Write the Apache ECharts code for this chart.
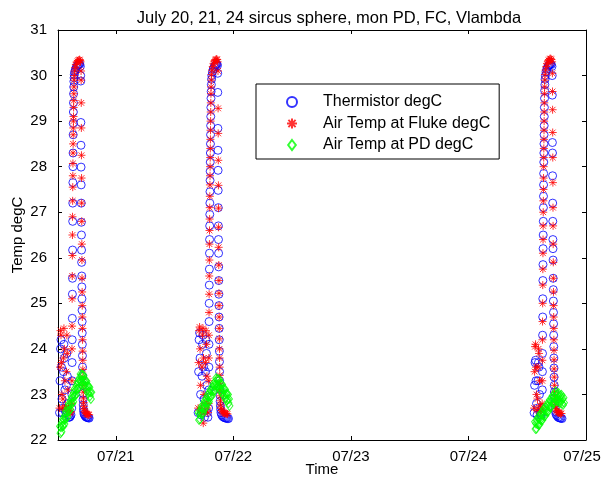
<!DOCTYPE html>
<html>
<head>
<meta charset="utf-8">
<script src="https://cdn.jsdelivr.net/npm/echarts@6/dist/echarts.min.js"></script>
<style>
html,body{margin:0;padding:0;background:#fff;}
#chart{width:602px;height:482px;}
</style>
</head>
<body>
<div id="chart"></div>
<script>
// Time in hours since 07/20 00:00, temperature in degC
const xTickHours = [24, 48, 72, 96, 120];
const xTickLabels = ['07/21', '07/22', '07/23', '07/24', '07/25'];
const seriesNames = ['Thermistor degC', 'Air Temp at Fluke degC', 'Air Temp at PD degC'];

const thermistorEp1 = [[12.5,22.6],[12.6,23.3],[12.7,24.0],[12.8,24.2],[12.9,23.6],[13.0,22.9],[13.1,22.6],[13.2,22.7],[13.3,23.5],[13.4,24.1],[13.5,23.8],[13.6,23.1],[13.7,22.65],[13.8,22.6],[13.9,23.2],[14.0,23.9],[14.1,23.4],[14.2,22.8],[14.3,22.55],[14.4,22.5],[14.55,22.5],[14.7,22.52],[14.85,22.55],
[15.0,22.7],[15.03,23.0],[15.05,23.3],[15.07,23.7],[15.09,24.2],[15.11,24.67],[15.13,25.2],[15.15,25.55],[15.17,26.17],[15.19,26.8],[15.21,27.2],[15.23,27.65],[15.25,28.0],[15.27,28.3],[15.29,28.7],[15.31,28.95],[15.33,29.2],[15.35,29.4],[15.37,29.6],[15.4,29.75],[15.43,29.87],[15.47,29.95],[15.52,30.02],
[15.6,30.08],[15.75,30.13],[15.9,30.17],[16.05,30.2],[16.2,30.22],[16.35,30.24],[16.5,30.25],[16.65,30.25],[16.75,30.2],
[16.82,30.0],[16.84,29.88],[16.86,28.97],[16.88,28.47],[16.9,27.99],[16.92,27.6],[16.94,27.2],[16.96,26.78],[16.98,26.5],[17.0,26.17],[17.02,25.9],[17.04,25.6],[17.06,25.36],[17.08,25.1],[17.1,24.85],[17.12,24.6],[17.14,24.35],[17.16,24.1],[17.18,23.85],[17.2,23.6],[17.22,23.4],[17.24,23.2],[17.27,23.02],[17.3,22.88],[17.34,22.77],[17.38,22.68],[17.43,22.62],[17.5,22.57],
[17.65,22.54],[17.8,22.52],[17.95,22.5],[18.1,22.5],[18.25,22.49],[18.4,22.49],[18.55,22.48]];

const thermistorEp2 = [[40.8,22.6],[40.9,23.5],[41.0,24.2],[41.1,24.35],[41.2,23.8],[41.3,23.0],[41.4,22.55],[41.5,22.6],[41.6,23.4],[41.7,24.1],[41.8,24.3],[41.9,23.6],[42.0,22.9],[42.1,22.5],[42.2,22.7],[42.3,23.5],[42.4,24.2],[42.5,23.9],[42.6,23.2],[42.7,22.6],[42.8,22.5],
[42.95,22.7],[42.98,23.1],[43.0,23.6],[43.02,24.1],[43.04,24.6],[43.06,25.0],[43.08,25.4],[43.1,25.75],[43.12,26.1],[43.14,26.4],[43.16,26.7],[43.18,26.95],[43.2,27.2],[43.22,27.45],[43.24,27.7],[43.26,27.9],[43.28,28.1],[43.3,28.3],[43.32,28.5],[43.34,28.7],[43.36,28.9],[43.38,29.1],[43.4,29.3],[43.43,29.5],[43.46,29.65],[43.5,29.8],[43.55,29.92],[43.6,30.0],
[43.75,30.08],[43.9,30.14],[44.05,30.18],[44.2,30.21],[44.35,30.23],[44.5,30.25],[44.65,30.25],[44.75,30.22],
[44.8,30.05],[44.82,29.63],[44.84,28.84],[44.86,28.36],[44.88,27.92],[44.9,27.48],[44.92,27.1],[44.94,26.7],[44.96,26.4],[44.98,26.1],[45.0,25.8],[45.02,25.5],[45.04,25.2],[45.06,24.95],[45.08,24.7],[45.1,24.45],[45.12,24.2],[45.14,23.95],[45.16,23.72],[45.18,23.5],[45.2,23.3],[45.23,23.12],[45.26,22.98],[45.3,22.85],[45.35,22.75],[45.4,22.67],[45.46,22.6],
[45.6,22.55],[45.8,22.52],[46.0,22.5],[46.2,22.49],[46.4,22.48],[46.6,22.48],[46.8,22.47],[47.0,22.47]];

const thermistorEp3 = [[109.4,22.6],[109.5,23.2],[109.6,23.7],[109.7,23.75],[109.8,23.3],[109.9,22.8],[110.0,22.55],[110.1,22.7],[110.2,23.3],[110.3,23.7],[110.4,23.6],[110.5,23.0],[110.6,22.6],[110.7,22.55],[110.8,22.6],[110.9,22.55],
[111.05,22.7],[111.08,23.1],[111.1,23.5],[111.12,23.9],[111.14,24.3],[111.16,24.7],[111.18,25.1],[111.2,25.5],[111.22,25.85],[111.24,26.2],[111.26,26.5],[111.28,26.8],[111.3,27.1],[111.32,27.35],[111.34,27.6],[111.36,27.85],[111.38,28.1],[111.4,28.3],[111.42,28.5],[111.44,28.7],[111.46,28.9],[111.48,29.1],[111.5,29.3],[111.53,29.5],[111.56,29.67],[111.6,29.8],[111.65,29.92],[111.7,30.0],
[111.85,30.08],[112.0,30.14],[112.15,30.18],[112.3,30.21],[112.45,30.23],[112.6,30.24],[112.75,30.25],[112.9,30.24],[113.05,30.2],
[113.1,30.0],[113.12,29.57],[113.14,28.53],[113.16,28.3],[113.18,27.8],[113.2,27.2],[113.22,26.8],[113.24,26.4],[113.26,26.2],[113.28,25.95],[113.3,25.55],[113.32,25.3],[113.34,25.05],[113.36,24.8],[113.38,24.55],[113.4,24.3],[113.42,24.05],[113.44,23.8],[113.46,23.58],[113.48,23.38],[113.51,23.2],[113.54,23.05],[113.58,22.92],[113.63,22.8],[113.69,22.7],[113.76,22.62],
[113.9,22.56],[114.1,22.53],[114.3,22.5],[114.5,22.49],[114.7,22.48],[114.9,22.48],[115.1,22.47]];

const flukeEp1 = [[12.5,22.7],[12.6,23.6],[12.7,24.4],[12.8,24.3],[12.9,23.7],[13.0,23.0],[13.1,22.7],[13.2,22.9],[13.3,23.8],[13.4,24.45],[13.5,24.0],[13.6,23.3],[13.7,22.75],[13.8,22.7],[13.9,23.5],[14.0,24.3],[14.1,23.9],[14.2,23.1],[14.3,22.7],[14.4,22.62],[14.55,22.6],[14.7,22.6],[14.85,22.62],
[15.0,22.8],[15.02,23.3],[15.04,24.0],[15.06,24.5],[15.08,25.1],[15.1,25.6],[15.12,26.05],[15.14,26.5],[15.16,26.9],[15.18,27.25],[15.2,27.55],[15.22,27.8],[15.24,28.07],[15.26,28.3],[15.28,28.5],[15.3,28.7],[15.32,28.85],[15.34,29.0],[15.36,29.1],[15.38,29.3],[15.4,29.45],[15.42,29.6],[15.45,29.75],[15.48,29.9],[15.52,30.0],
[15.6,30.1],[15.72,30.18],[15.85,30.24],[16.0,30.28],[16.15,30.31],[16.3,30.33],[16.45,30.34],[16.6,30.35],[16.72,30.33],[16.8,30.3],
[16.9,30.1],[16.92,29.9],[16.94,29.4],[16.96,28.85],[16.98,28.25],[17.0,27.75],[17.02,27.2],[17.04,26.8],[17.06,26.3],[17.08,25.95],[17.1,25.55],[17.12,25.25],[17.14,24.95],[17.16,24.7],[17.18,24.45],[17.2,24.2],[17.22,23.95],[17.24,23.75],[17.26,23.55],[17.28,23.38],[17.31,23.2],[17.34,23.05],[17.38,22.92],[17.42,22.82],[17.47,22.74],[17.53,22.68],
[17.65,22.63],[17.8,22.6],[17.95,22.58],[18.1,22.57],[18.25,22.56],[18.4,22.56],[18.55,22.55]];

const flukeEp2 = [[40.8,22.7],[40.9,23.7],[41.0,24.4],[41.1,24.48],[41.2,24.0],[41.3,23.2],[41.4,22.6],[41.5,22.7],[41.6,23.6],[41.7,24.3],[41.8,24.45],[41.85,22.37],[41.9,23.8],[42.0,23.0],[42.1,22.6],[42.2,22.8],[42.3,23.7],[42.4,24.4],[42.5,24.1],[42.6,23.4],[42.7,22.7],[42.8,22.6],
[42.95,22.8],[42.97,23.3],[42.99,23.8],[43.01,24.3],[43.03,24.8],[43.05,25.2],[43.07,25.6],[43.09,25.95],[43.11,26.3],[43.13,26.6],[43.15,26.85],[43.17,27.1],[43.19,27.35],[43.21,27.6],[43.23,27.8],[43.25,28.0],[43.27,28.2],[43.29,28.4],[43.31,28.6],[43.33,28.8],[43.35,29.0],[43.37,29.2],[43.39,29.4],[43.42,29.6],[43.45,29.75],[43.49,29.9],[43.54,30.02],
[43.65,30.12],[43.8,30.2],[43.95,30.26],[44.1,30.3],[44.25,30.33],[44.4,30.35],[44.55,30.36],[44.7,30.35],[44.8,30.3],
[44.86,30.1],[44.88,29.28],[44.9,28.73],[44.92,28.14],[44.94,27.59],[44.96,27.09],[44.98,26.67],[45.0,26.23],[45.02,25.84],[45.04,25.5],[45.06,25.22],[45.08,24.95],[45.1,24.7],[45.12,24.45],[45.14,24.22],[45.16,24.0],[45.18,23.8],[45.2,23.6],[45.22,23.42],[45.25,23.25],[45.28,23.1],[45.32,22.97],[45.36,22.86],[45.41,22.77],[45.47,22.7],
[45.6,22.65],[45.8,22.62],[46.0,22.6],[46.2,22.59],[46.4,22.58],[46.6,22.58],[46.8,22.57]];

const flukeEp3 = [[109.4,22.7],[109.5,23.5],[109.6,24.05],[109.7,24.1],[109.8,23.6],[109.9,23.0],[110.0,22.65],[110.1,22.9],[110.2,23.6],[110.3,24.0],[110.4,23.9],[110.5,23.3],[110.6,22.75],[110.7,22.65],[110.8,22.7],[110.9,22.65],
[111.05,22.8],[111.07,23.3],[111.09,23.75],[111.11,24.2],[111.13,24.6],[111.15,25.0],[111.17,25.4],[111.19,25.75],[111.21,26.1],[111.23,26.4],[111.25,26.7],[111.27,27.0],[111.29,27.25],[111.31,27.5],[111.33,27.75],[111.35,28.0],[111.37,28.2],[111.39,28.4],[111.41,28.6],[111.43,28.8],[111.45,29.0],[111.47,29.2],[111.49,29.4],[111.52,29.6],[111.55,29.75],[111.59,29.9],[111.64,30.02],
[111.75,30.12],[111.9,30.2],[112.05,30.26],[112.2,30.3],[112.35,30.33],[112.5,30.35],[112.65,30.37],[112.8,30.37],[112.95,30.35],[113.08,30.3],
[113.14,30.05],[113.16,29.65],[113.18,29.25],[113.2,28.75],[113.22,28.2],[113.24,27.65],[113.26,27.1],[113.28,26.7],[113.3,26.3],[113.32,25.9],[113.34,25.55],[113.36,25.25],[113.38,24.95],[113.4,24.7],[113.42,24.45],[113.44,24.2],[113.46,23.97],[113.48,23.76],[113.5,23.56],[113.53,23.38],[113.56,23.2],[113.6,23.05],[113.65,22.92],[113.7,22.82],[113.76,22.74],[113.83,22.68],
[114.0,22.64],[114.2,22.61],[114.4,22.6],[114.6,22.59],[114.8,22.58],[115.0,22.58]];

const pdEp1 = [[12.6,22.30],[12.7,22.15],[12.8,22.28],[12.9,22.18],[13.0,22.38],[13.1,22.31],[13.2,22.46],[13.3,22.31],[13.4,22.45],[13.5,22.35],[13.6,22.54],[13.7,22.47],[13.8,22.63],[13.9,22.47],[14.0,22.61],[14.1,22.51],[14.2,22.71],[14.3,22.63],[14.4,22.79],[14.5,22.64],[14.6,22.78],[14.7,22.67],[14.8,22.87],[14.9,22.80],[15.0,22.95],[15.1,22.80],[15.2,22.94],[15.3,22.84],[15.4,23.03],[15.5,22.96],[15.6,23.12],[15.7,22.97],[15.8,23.10],[15.9,23.00],[16.0,23.20],[16.1,23.12],[16.2,23.28],[16.3,23.13],[16.4,23.27],[16.5,23.16],[16.6,23.36],[16.7,23.29],[16.8,23.45],[16.9,23.29],[17.0,23.43],[17.1,23.28],[17.2,23.43],[17.3,23.31],[17.4,23.42],[17.5,23.22],[17.6,23.30],[17.7,23.15],[17.8,23.30],[17.9,23.18],[18.0,23.29],[18.1,23.09],[18.2,23.18],[18.3,23.03],[18.4,23.18],[18.5,23.06],[18.6,23.16],[18.7,22.96],[18.8,23.05],[18.9,22.90],[19.0,23.05]];

const pdEp2 = [[40.9,22.60],[41.0,22.44],[41.1,22.57],[41.2,22.46],[41.3,22.65],[41.4,22.58],[41.5,22.73],[41.6,22.57],[41.7,22.70],[41.8,22.59],[41.9,22.78],[42.0,22.70],[42.1,22.85],[42.2,22.69],[42.3,22.82],[42.4,22.72],[42.5,22.91],[42.6,22.83],[42.7,22.98],[42.8,22.82],[42.9,22.95],[43.0,22.84],[43.1,23.03],[43.2,22.95],[43.3,23.10],[43.4,22.95],[43.5,23.08],[43.6,22.97],[43.7,23.16],[43.8,23.08],[43.9,23.23],[44.0,23.07],[44.1,23.20],[44.2,23.09],[44.3,23.28],[44.4,23.21],[44.5,23.36],[44.6,23.20],[44.7,23.33],[44.8,23.18],[44.9,23.33],[45.0,23.22],[45.1,23.33],[45.2,23.13],[45.3,23.22],[45.4,23.07],[45.5,23.23],[45.6,23.11],[45.7,23.22],[45.8,23.02],[45.9,23.11],[46.0,22.97],[46.1,23.12],[46.2,23.00],[46.3,23.11],[46.4,22.91],[46.5,23.01],[46.6,22.86],[46.7,23.01],[46.8,22.89],[46.9,23.00],[47.0,22.81],[47.1,22.90],[47.2,22.75]];

const pdEp3 = [[109.6,22.40],[109.7,22.24],[109.8,22.36],[109.9,22.25],[110.0,22.43],[110.1,22.35],[110.2,22.50],[110.3,22.33],[110.4,22.46],[110.5,22.34],[110.6,22.53],[110.7,22.45],[110.8,22.59],[110.9,22.43],[111.0,22.55],[111.1,22.44],[111.2,22.63],[111.3,22.54],[111.4,22.69],[111.5,22.52],[111.6,22.65],[111.7,22.54],[111.8,22.72],[111.9,22.64],[112.0,22.78],[112.1,22.62],[112.2,22.75],[112.3,22.63],[112.4,22.82],[112.5,22.73],[112.6,22.88],[112.7,22.72],[112.8,22.84],[112.9,22.73],[113.0,22.91],[113.1,22.83],[113.2,22.97],[113.3,22.81],[113.4,22.94],[113.5,22.82],[113.6,23.01],[113.7,22.92],[113.8,23.07],[113.9,22.88],[114.0,22.99],[114.1,22.85],[114.2,23.01],[114.3,22.91],[114.4,23.03],[114.5,22.84],[114.6,22.94],[114.7,22.81],[114.8,22.97],[114.9,22.86],[115.0,22.99],[115.1,22.80],[115.2,22.90],[115.3,22.77],[115.4,22.93],[115.5,22.82]];

const FONT = 'Liberation Sans, Arial, sans-serif';
const chart = echarts.init(document.getElementById('chart'), null, {renderer: 'canvas'});

const starPath = 'path://M0,-5L0,5M-5,0L5,0M-3.6,-3.6L3.6,3.6M-3.6,3.6L3.6,-3.6';
const diamondPath = 'path://M0,-6L4.6,0L0,6L-4.6,0Z';

const axisCommon = {
  type: 'value',
  axisLine: {show: true, lineStyle: {color: '#000', width: 1}},
  splitLine: {show: false},
};

chart.setOption({
  animation: false,
  backgroundColor: '#fff',
  title: {
    text: 'July 20, 21, 24 sircus sphere, mon PD, FC, Vlambda',
    left: 324, top: 5, textAlign: 'center',
    textStyle: {fontFamily: FONT, fontSize: 16.5, fontWeight: 'normal', color: '#000'}
  },
  legend: {
    orient: 'vertical',
    left: 256, top: 84,
    align: 'left',
    padding: [10, 9, 6, 30],
    itemWidth: 10, itemHeight: 10, itemGap: 5.5,
    borderColor: '#000', borderWidth: 1, backgroundColor: '#fff',
    textStyle: {fontFamily: FONT, fontSize: 16, color: '#000', padding: [0, 0, 0, 21]},
    data: seriesNames
  },
  grid: {left: 58, right: 16, top: 30, bottom: 42, outerBoundsMode: 'none', containLabel: false},
  xAxis: [
    Object.assign({}, axisCommon, {
      position: 'bottom', min: 12.19, max: 120,
      axisTick: {show: true, inside: true, length: 4, lineStyle: {color: '#000'}, customValues: xTickHours},
      axisLabel: {show: true, color: '#000', fontFamily: FONT, fontSize: 15, margin: 9, customValues: xTickHours,
        formatter: function (v) {
          const i = xTickHours.indexOf(v);
          if (i < 0) return '';
          return i === xTickHours.length - 1 ? '{last|' + xTickLabels[i] + '}' : xTickLabels[i];
        },
        rich: {last: {fontFamily: FONT, fontSize: 15, color: '#000', padding: [0, 8, 0, 0]}}},
      name: 'Time', nameLocation: 'middle', nameGap: 22, nameMoveOverlap: false,
      nameTextStyle: {fontFamily: FONT, fontSize: 15, color: '#000'}
    }),
    Object.assign({}, axisCommon, {
      position: 'top', min: 12.19, max: 120,
      axisTick: {show: true, inside: true, length: 4, lineStyle: {color: '#000'}, customValues: xTickHours},
      axisLabel: {show: false}
    })
  ],
  yAxis: [
    Object.assign({}, axisCommon, {
      position: 'left', min: 22, max: 31, interval: 1,
      axisTick: {show: true, inside: true, length: 4, lineStyle: {color: '#000'}},
      axisLabel: {show: true, color: '#000', fontFamily: FONT, fontSize: 15, margin: 11},
      name: 'Temp degC', nameLocation: 'middle', nameGap: 33, nameRotate: 90, nameMoveOverlap: false,
      nameTextStyle: {fontFamily: FONT, fontSize: 15, color: '#000'}
    }),
    Object.assign({}, axisCommon, {
      position: 'right', min: 22, max: 31, interval: 1,
      axisTick: {show: true, inside: true, length: 4, lineStyle: {color: '#000'}},
      axisLabel: {show: false}
    })
  ],
  series: [
    {
      name: seriesNames[0], type: 'scatter', symbol: 'circle', symbolSize: 8,
      itemStyle: {color: 'rgba(0,0,0,0)', borderColor: '#0000ff', borderWidth: 1},
      data: thermistorEp1.concat(thermistorEp2, thermistorEp3)
    },
    {
      name: seriesNames[1], type: 'scatter', symbol: starPath, symbolSize: 8,
      itemStyle: {color: 'rgba(0,0,0,0)', borderColor: '#ff0000', borderWidth: 1},
      data: flukeEp1.concat(flukeEp2, flukeEp3)
    },
    {
      name: seriesNames[2], type: 'scatter', symbol: diamondPath, symbolSize: [7, 9],
      itemStyle: {color: 'rgba(0,0,0,0)', borderColor: '#00ff00', borderWidth: 1},
      data: pdEp1.concat(pdEp2, pdEp3)
    }
  ]
});
</script>
</body>
</html>
